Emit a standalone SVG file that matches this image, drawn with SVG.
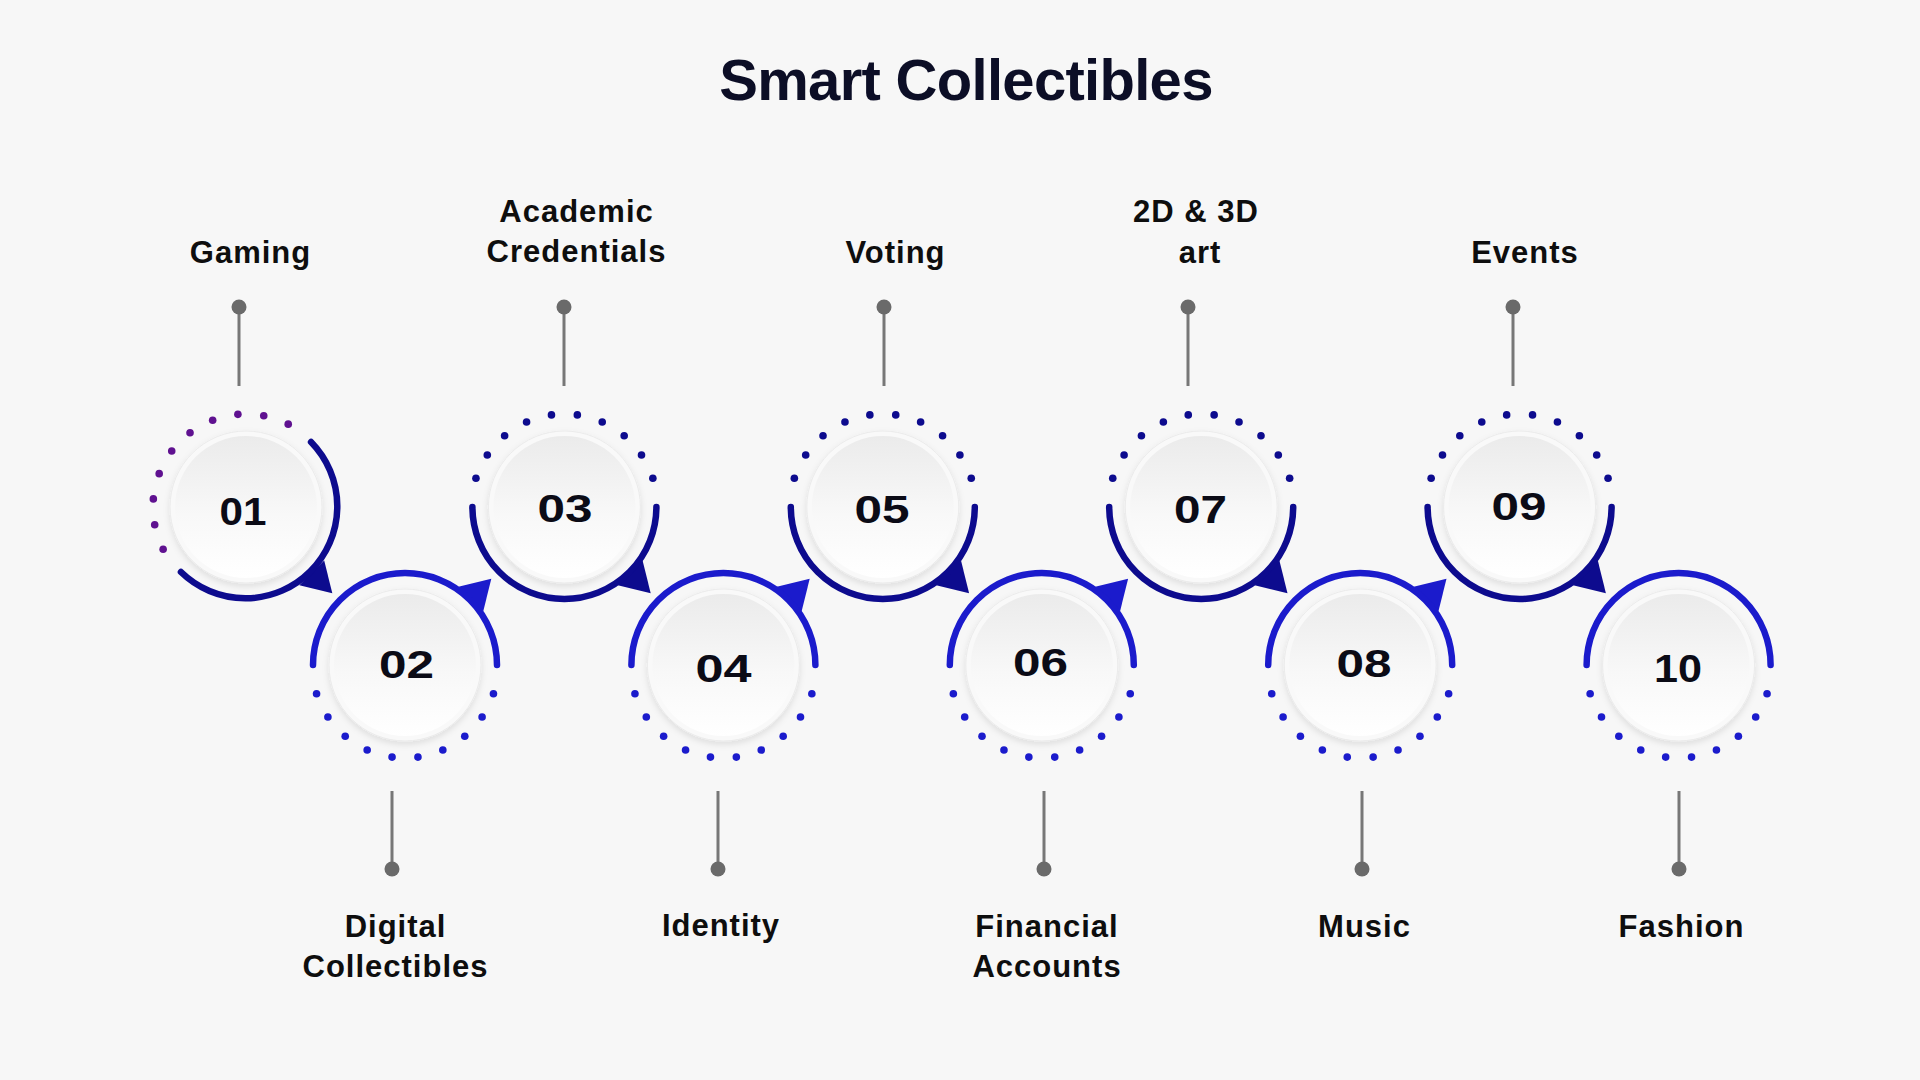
<svg xmlns="http://www.w3.org/2000/svg" xmlns:xlink="http://www.w3.org/1999/xlink" width="1920" height="1080" viewBox="0 0 1920 1080">
<style>
.title{font-family:"Liberation Sans",Arial,sans-serif;font-weight:700;font-size:58px;letter-spacing:-0.7px;fill:#0c0e26;text-anchor:middle}
.lbl{font-family:"Liberation Sans",Arial,sans-serif;font-weight:700;font-size:31px;letter-spacing:1px;fill:#0e0e0e;text-anchor:middle}
.num{font-family:"Liberation Sans",Arial,sans-serif;font-weight:700;font-size:39px;fill:#0b0b16;text-anchor:middle}
.arcD{fill:none;stroke:#0d0b8e;stroke-width:6.5;stroke-linecap:round}
.arcB{fill:none;stroke:#1b1bcc;stroke-width:6.5;stroke-linecap:round}
.pinL{stroke:#777777;stroke-width:3}
.pinD{fill:#6a6a6a}
</style>
<defs>
<linearGradient id="discGrad" x1="0" y1="0" x2="0" y2="1">
<stop offset="0" stop-color="#ebebeb"/>
<stop offset="0.55" stop-color="#f8f8f8"/>
<stop offset="1" stop-color="#ffffff"/>
</linearGradient>
<filter id="sh" x="-30%" y="-30%" width="160%" height="160%">
<feDropShadow dx="0" dy="3" stdDeviation="3" flood-color="#000000" flood-opacity="0.10"/>
</filter>
<g id="disc">
<circle r="76" fill="#f9f9f9" stroke="#ebebeb" stroke-width="1" filter="url(#sh)"/>
<circle r="71" fill="url(#discGrad)"/>
</g>
<g id="dotsTop">
<circle cx="88.45" cy="-28.74" r="3.8"/><circle cx="77.10" cy="-52.01" r="3.8"/><circle cx="59.78" cy="-71.24" r="3.8"/><circle cx="37.83" cy="-84.96" r="3.8"/><circle cx="12.94" cy="-92.09" r="3.8"/>
<circle cx="-12.94" cy="-92.09" r="3.8"/><circle cx="-37.83" cy="-84.96" r="3.8"/><circle cx="-59.78" cy="-71.24" r="3.8"/><circle cx="-77.10" cy="-52.01" r="3.8"/><circle cx="-88.45" cy="-28.74" r="3.8"/>
</g>
<g id="dotsBot">
<circle cx="88.45" cy="28.74" r="3.8"/><circle cx="77.10" cy="52.01" r="3.8"/><circle cx="59.78" cy="71.24" r="3.8"/><circle cx="37.83" cy="84.96" r="3.8"/><circle cx="12.94" cy="92.09" r="3.8"/>
<circle cx="-12.94" cy="92.09" r="3.8"/><circle cx="-37.83" cy="84.96" r="3.8"/><circle cx="-59.78" cy="71.24" r="3.8"/><circle cx="-77.10" cy="52.01" r="3.8"/><circle cx="-88.45" cy="28.74" r="3.8"/>
</g>
<g id="dotsFirst">
<circle cx="42.22" cy="-82.86" r="3.8"/><circle cx="17.75" cy="-91.29" r="3.8"/><circle cx="-8.11" cy="-92.65" r="3.8"/><circle cx="-33.33" cy="-86.82" r="3.8"/><circle cx="-55.97" cy="-74.27" r="3.8"/>
<circle cx="-74.27" cy="-55.97" r="3.8"/><circle cx="-86.82" cy="-33.33" r="3.8"/><circle cx="-92.65" cy="-8.11" r="3.8"/><circle cx="-91.29" cy="17.75" r="3.8"/><circle cx="-82.86" cy="42.22" r="3.8"/>
</g>
<path id="arcBottom" d="M -92 0 A 92 92 0 0 0 92 0"/>
<path id="arcTop" d="M -92 0 A 92 92 0 0 1 92 0"/>
<polygon id="headDown" points="53.4,78.2 78.2,53.4 86.3,86.3"/>
<polygon id="headUp" points="53.4,-78.2 78.2,-53.4 86.3,-86.3"/>
</defs>

<rect class="bg" x="0" y="0" width="1920" height="1080" fill="#f7f7f7"/>

<text class="title" x="966" y="100">Smart Collectibles</text>

<g id="connectors">
<g id="pins">
<line class="pinL" x1="239" y1="307" x2="239" y2="386"/><circle class="pinD" cx="239" cy="307" r="7.5"/>
<line class="pinL" x1="564" y1="307" x2="564" y2="386"/><circle class="pinD" cx="564" cy="307" r="7.5"/>
<line class="pinL" x1="884" y1="307" x2="884" y2="386"/><circle class="pinD" cx="884" cy="307" r="7.5"/>
<line class="pinL" x1="1188" y1="307" x2="1188" y2="386"/><circle class="pinD" cx="1188" cy="307" r="7.5"/>
<line class="pinL" x1="1513" y1="307" x2="1513" y2="386"/><circle class="pinD" cx="1513" cy="307" r="7.5"/>
<line class="pinL" x1="392" y1="791" x2="392" y2="869"/><circle class="pinD" cx="392" cy="869" r="7.5"/>
<line class="pinL" x1="718" y1="791" x2="718" y2="869"/><circle class="pinD" cx="718" cy="869" r="7.5"/>
<line class="pinL" x1="1044" y1="791" x2="1044" y2="869"/><circle class="pinD" cx="1044" cy="869" r="7.5"/>
<line class="pinL" x1="1362" y1="791" x2="1362" y2="869"/><circle class="pinD" cx="1362" cy="869" r="7.5"/>
<line class="pinL" x1="1679" y1="791" x2="1679" y2="869"/><circle class="pinD" cx="1679" cy="869" r="7.5"/>
</g>
<g id="arrowheads">
<use href="#headDown" x="246" y="507" fill="#0d0b8e"/>
<use href="#headUp" x="405" y="665" fill="#1b1bcc"/>
<use href="#headDown" x="564.4" y="507" fill="#0d0b8e"/>
<use href="#headUp" x="723.4" y="665" fill="#1b1bcc"/>
<use href="#headDown" x="882.8" y="507" fill="#0d0b8e"/>
<use href="#headUp" x="1041.8" y="665" fill="#1b1bcc"/>
<use href="#headDown" x="1201.2" y="507" fill="#0d0b8e"/>
<use href="#headUp" x="1360.2" y="665" fill="#1b1bcc"/>
<use href="#headDown" x="1519.6" y="507" fill="#0d0b8e"/>
</g>
</g>

<g id="node01">
<use href="#disc" x="246" y="507"/>
<path class="arcD" d="M 311.05 441.95 A 92 92 0 0 1 180.95 572.05"/>
<use href="#dotsFirst" x="246" y="507" fill="#5f1190"/>
<text class="num" x="243" y="525" textLength="47" lengthAdjust="spacingAndGlyphs">01</text>
</g>
<g id="node02">
<use href="#disc" x="405" y="665"/>
<use href="#arcTop" x="405" y="665" class="arcB"/>
<use href="#dotsBot" x="405" y="665" fill="#1b1bcc"/>
<text class="num" x="406.5" y="678" textLength="55" lengthAdjust="spacingAndGlyphs">02</text>
</g>
<g id="node03">
<use href="#disc" x="564.4" y="507"/>
<use href="#arcBottom" x="564.4" y="507" class="arcD"/>
<use href="#dotsTop" x="564.4" y="507" fill="#0d0b8e"/>
<text class="num" x="565" y="522" textLength="55" lengthAdjust="spacingAndGlyphs">03</text>
</g>
<g id="node04">
<use href="#disc" x="723.4" y="665"/>
<use href="#arcTop" x="723.4" y="665" class="arcB"/>
<use href="#dotsBot" x="723.4" y="665" fill="#1b1bcc"/>
<text class="num" x="723.5" y="682" textLength="56" lengthAdjust="spacingAndGlyphs">04</text>
</g>
<g id="node05">
<use href="#disc" x="882.8" y="507"/>
<use href="#arcBottom" x="882.8" y="507" class="arcD"/>
<use href="#dotsTop" x="882.8" y="507" fill="#0d0b8e"/>
<text class="num" x="882" y="523" textLength="55" lengthAdjust="spacingAndGlyphs">05</text>
</g>
<g id="node06">
<use href="#disc" x="1041.8" y="665"/>
<use href="#arcTop" x="1041.8" y="665" class="arcB"/>
<use href="#dotsBot" x="1041.8" y="665" fill="#1b1bcc"/>
<text class="num" x="1040.5" y="676" textLength="55" lengthAdjust="spacingAndGlyphs">06</text>
</g>
<g id="node07">
<use href="#disc" x="1201.2" y="507"/>
<use href="#arcBottom" x="1201.2" y="507" class="arcD"/>
<use href="#dotsTop" x="1201.2" y="507" fill="#0d0b8e"/>
<text class="num" x="1200.5" y="523" textLength="53" lengthAdjust="spacingAndGlyphs">07</text>
</g>
<g id="node08">
<use href="#disc" x="1360.2" y="665"/>
<use href="#arcTop" x="1360.2" y="665" class="arcB"/>
<use href="#dotsBot" x="1360.2" y="665" fill="#1b1bcc"/>
<text class="num" x="1364" y="677" textLength="55" lengthAdjust="spacingAndGlyphs">08</text>
</g>
<g id="node09">
<use href="#disc" x="1519.6" y="507"/>
<use href="#arcBottom" x="1519.6" y="507" class="arcD"/>
<use href="#dotsTop" x="1519.6" y="507" fill="#0d0b8e"/>
<text class="num" x="1519" y="520" textLength="55" lengthAdjust="spacingAndGlyphs">09</text>
</g>
<g id="node10">
<use href="#disc" x="1678.6" y="665"/>
<use href="#arcTop" x="1678.6" y="665" class="arcB"/>
<use href="#dotsBot" x="1678.6" y="665" fill="#1b1bcc"/>
<text class="num" x="1678" y="682" textLength="48" lengthAdjust="spacingAndGlyphs">10</text>
</g>

<g id="labels">
<text class="lbl" x="250.5" y="263">Gaming</text>
<text class="lbl" x="576.5" y="222">Academic</text>
<text class="lbl" x="576.5" y="262">Credentials</text>
<text class="lbl" x="895.5" y="263">Voting</text>
<text class="lbl" x="1196" y="222">2D &amp; 3D</text>
<text class="lbl" x="1200" y="263">art</text>
<text class="lbl" x="1525" y="263">Events</text>
<text class="lbl" x="395.5" y="937">Digital</text>
<text class="lbl" x="395.5" y="977">Collectibles</text>
<text class="lbl" x="721" y="936">Identity</text>
<text class="lbl" x="1047" y="937">Financial</text>
<text class="lbl" x="1047" y="977">Accounts</text>
<text class="lbl" x="1364.5" y="937">Music</text>
<text class="lbl" x="1681.5" y="937">Fashion</text>
</g>
</svg>
